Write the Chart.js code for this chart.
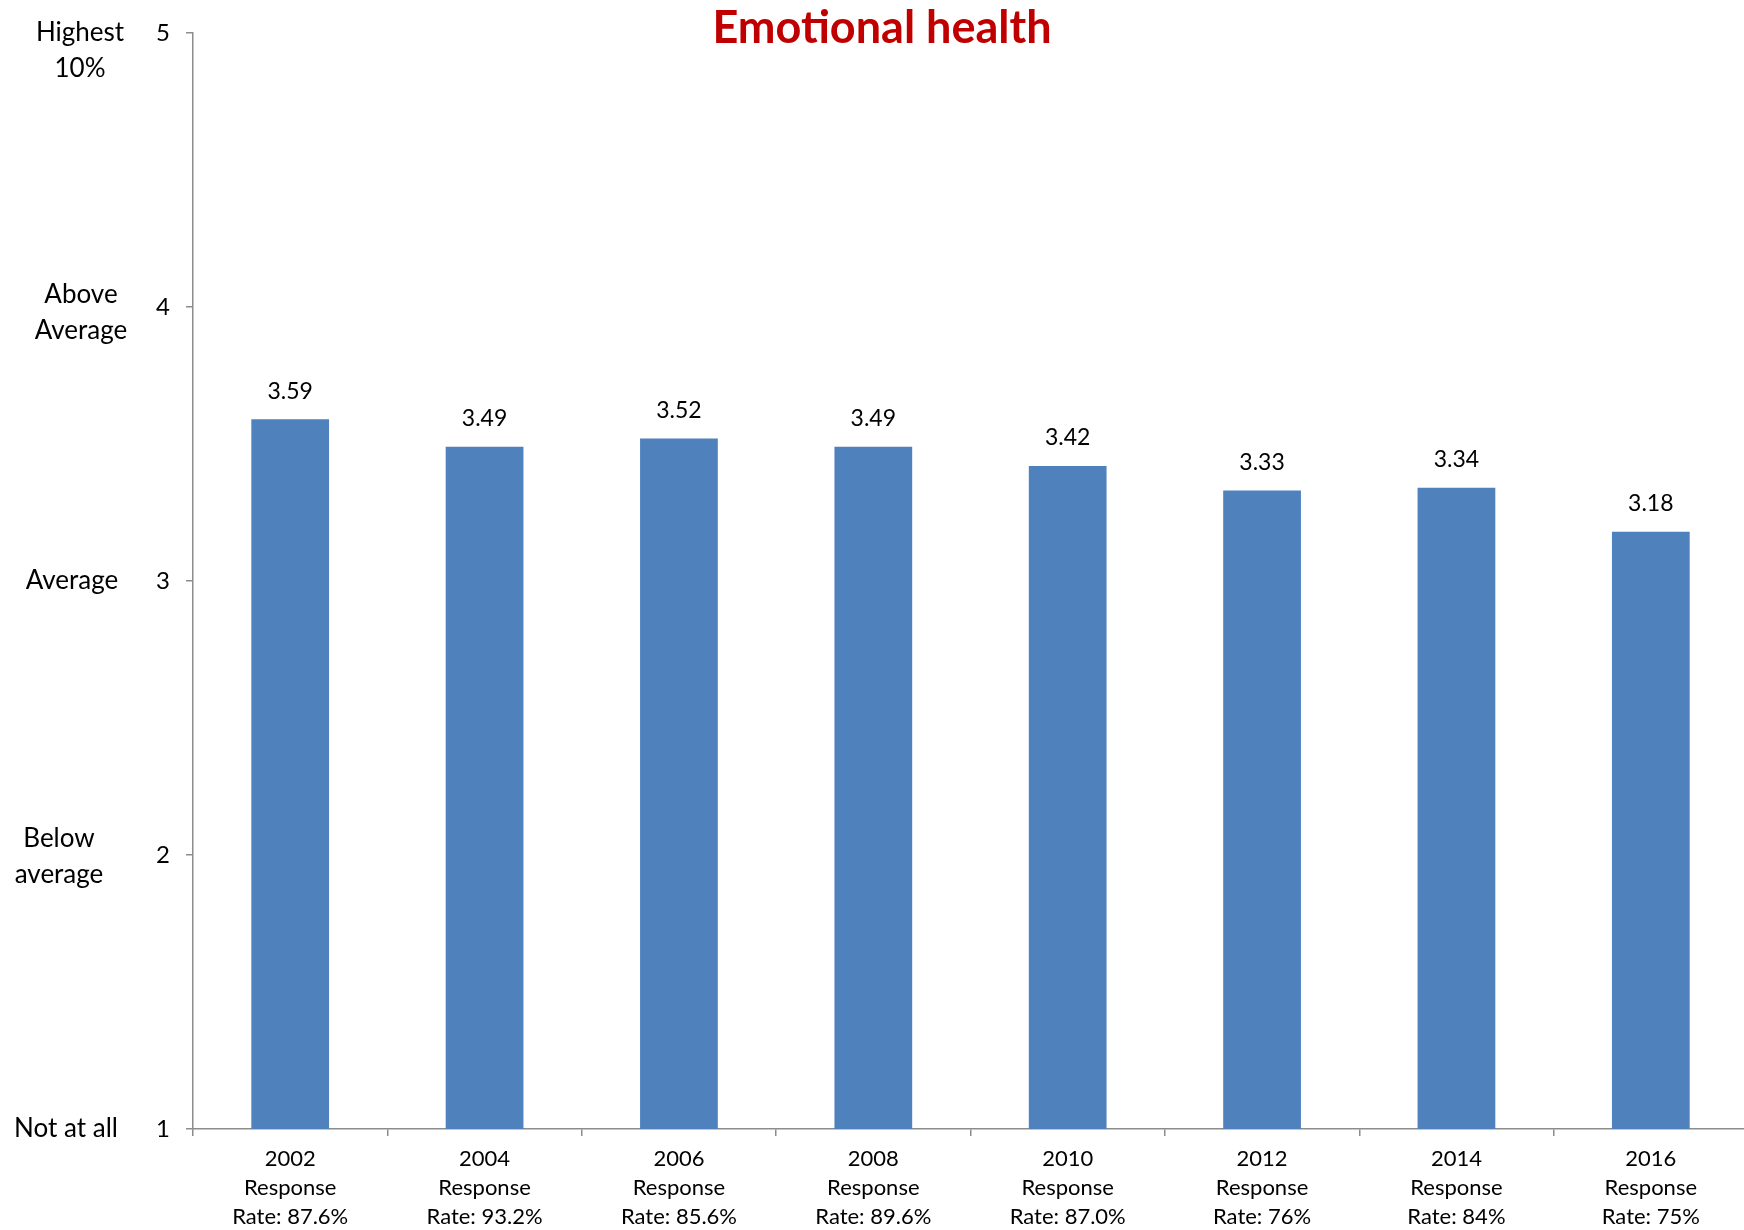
<!DOCTYPE html>
<html>
<head>
<meta charset="utf-8">
<script src="https://cdn.jsdelivr.net/npm/chart.js@4.4.1/dist/chart.umd.min.js"></script>
<style>
  html, body { margin: 0; padding: 0; background: #ffffff; overflow: hidden; }
  #wrap { width: 1748px; height: 1230px; position: relative; }
</style>
</head>
<body>
<div id="wrap"><canvas id="chart"></canvas></div>
<script>
// Survey years and response rates shown under each bar
const years = ['2002', '2004', '2006', '2008', '2010', '2012', '2014', '2016'];
const responseRates = ['87.6%', '93.2%', '85.6%', '89.6%', '87.0%', '76%', '84%', '75%'];
// Mean emotional health rating per survey
const scores = [3.59, 3.49, 3.52, 3.49, 3.42, 3.33, 3.34, 3.18];
// Rating scale, 1..5, and its verbal anchors
const scaleValues = [1, 2, 3, 4, 5];
const scaleNames = [['Not at all'], ['Below', 'average'], ['Average'], ['Above', 'Average'], ['Highest', '10%']];
const chartTitle = 'Emotional health';

const FONT = 'Lato, "Open Sans", sans-serif';
const AXIS_GREY = '#8c8c8c';

// Anchor text placement (centre x, vertical shift of the first line)
const nameStyle = [
  { x: 66, dy: 0 },
  { x: 59, dy: -16 },
  { x: 72, dy: 0 },
  { x: 81, dy: -12 },
  { x: 80, dy: 0 }
];

const scaleNamesPlugin = {
  id: 'scaleNames',
  afterDraw(chart) {
    const ctx = chart.ctx;
    const y = chart.scales.y;
    ctx.save();
    ctx.font = '26px ' + FONT;
    ctx.fillStyle = '#000000';
    ctx.textAlign = 'center';
    ctx.textBaseline = 'middle';
    const lh = 35.5;
    scaleValues.forEach((v, i) => {
      const py = y.getPixelForValue(v) + nameStyle[i].dy;
      scaleNames[i].forEach((line, j) => {
        ctx.fillText(line, nameStyle[i].x, py + j * lh);
      });
    });
    ctx.restore();
  }
};

const valueLabelsPlugin = {
  id: 'valueLabels',
  afterDatasetsDraw(chart) {
    const ctx = chart.ctx;
    const meta = chart.getDatasetMeta(0);
    ctx.save();
    ctx.font = '23px ' + FONT;
    ctx.fillStyle = '#000000';
    ctx.textAlign = 'center';
    ctx.textBaseline = 'middle';
    meta.data.forEach((bar, i) => {
      ctx.fillText(scores[i].toFixed(2), bar.x, bar.y - 28);
    });
    ctx.restore();
  }
};

const titlePlugin = {
  id: 'topTitle',
  afterDraw(chart) {
    const ctx = chart.ctx;
    ctx.save();
    ctx.font = 'bold 45px ' + FONT;
    ctx.fillStyle = '#C00000';
    ctx.textAlign = 'center';
    ctx.textBaseline = 'middle';
    ctx.fillText(chartTitle, 882, 28);
    ctx.restore();
  }
};

new Chart(document.getElementById('chart'), {
  type: 'bar',
  data: {
    labels: years,
    datasets: [{
      data: scores,
      backgroundColor: '#4F81BD',
      borderWidth: 0,
      categoryPercentage: 1.0,
      barPercentage: 0.4
    }]
  },
  options: {
    responsive: true,
    maintainAspectRatio: false,
    animation: false,
    devicePixelRatio: 1,
    layout: { padding: { top: 33, left: 0, right: 0, bottom: 0 } },
    plugins: {
      legend: { display: false },
      title: { display: false },
      tooltip: { enabled: false }
    },
    scales: {
      x: {
        grid: {
          display: true,
          offset: true,
          drawOnChartArea: false,
          drawTicks: true,
          tickLength: 7,
          color: AXIS_GREY,
          lineWidth: 1.5
        },
        border: { display: true, color: AXIS_GREY, width: 1.5 },
        ticks: {
          autoSkip: false,
          maxRotation: 0,
          minRotation: 0,
          padding: 8,
          color: '#000000',
          font: { family: FONT, size: 22, lineHeight: 1.32 },
          callback: (val, i) => [years[i], 'Response', 'Rate: ' + responseRates[i]]
        },
        afterFit(scale) { scale.height = 101; }
      },
      y: {
        min: 1,
        max: 5,
        grid: {
          display: true,
          drawOnChartArea: false,
          drawTicks: true,
          tickLength: 7,
          color: AXIS_GREY,
          lineWidth: 1.5
        },
        border: { display: true, color: AXIS_GREY, width: 1.5 },
        ticks: {
          stepSize: 1,
          padding: 16,
          color: '#000000',
          font: { family: FONT, size: 24 }
        },
        afterFit(scale) { scale.width = 193; }
      }
    }
  },
  plugins: [scaleNamesPlugin, valueLabelsPlugin, titlePlugin]
});
</script>
</body>
</html>
